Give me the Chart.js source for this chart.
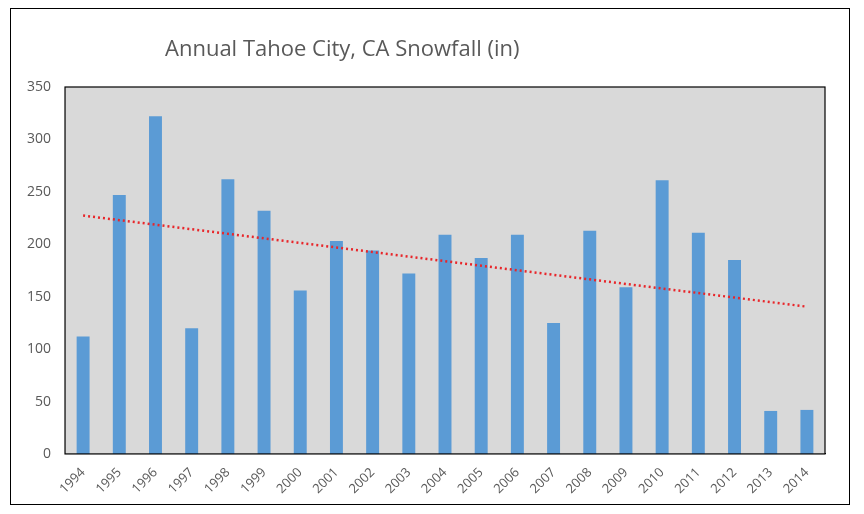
<!DOCTYPE html>
<html><head><script src="https://cdn.jsdelivr.net/npm/chart.js@4"></script>
<style>body{margin:0;background:#fff}#w{position:absolute;left:10px;top:8px;width:840px;height:497px;border:1.5px solid #000;box-sizing:border-box}
#t{position:absolute;left:165px;top:32px;font-family:'Open Sans';font-size:22px;color:#595959}
canvas{position:absolute;left:0;top:0}</style>
</head><body><div id="w"><canvas id="c" width="836" height="493"></canvas></div>
<div id="t">Annual Tahoe City, CA Snowfall (in)</div>
<script>
const years=["1994","1995","1996","1997","1998","1999","2000","2001","2002","2003","2004","2005","2006","2007","2008","2009","2010","2011","2012","2013","2014"];
const snowfall=[112,247,322,120,262,232,156,203,194,172,209,187,209,125,213,159,261,211,185,41,42];
const yTicks=[0,50,100,150,200,250,300,350];
const n=snowfall.length,mx=(n-1)/2,my=snowfall.reduce((a,b)=>a+b)/n;
let sxy=0,sxx=0;snowfall.forEach((v,i)=>{sxy+=(i-mx)*(v-my);sxx+=(i-mx)*(i-mx);});
const slope=sxy/sxx;const trend=snowfall.map((v,i)=>my+slope*(i-mx));
const bg={id:'bg',beforeDatasetsDraw(c){const a=c.chartArea,x=c.ctx;x.save();x.fillStyle='#d9d9d9';x.fillRect(a.left,a.top,a.width,a.height);x.restore();},
afterDraw(c){const a=c.chartArea,x=c.ctx;x.save();x.strokeStyle='#000';x.lineWidth=1.2;x.strokeRect(a.left,a.top,a.width,a.height);x.restore();}};
new Chart(document.getElementById('c'),{type:'bar',data:{labels:years,datasets:[
{type:'line',data:trend,borderColor:'#e8262a',borderDash:[2,3],borderWidth:2.5,pointRadius:0,order:0},
{data:snowfall,backgroundColor:'#5b9bd5',categoryPercentage:0.65,barPercentage:0.55,order:1}]},
options:{responsive:false,animation:false,layout:{padding:{left:10,right:22,top:78,bottom:2}},
plugins:{legend:{display:false},tooltip:{enabled:false},title:{display:false}},
scales:{x:{grid:{display:false},border:{color:'#000'},ticks:{autoSkip:false,color:'#595959',font:{family:'Open Sans',size:13},maxRotation:45,minRotation:45}},
y:{min:0,max:350,afterBuildTicks(s){s.ticks=yTicks.map(v=>({value:v}));},grid:{display:false},border:{color:'#000'},ticks:{color:'#595959',font:{family:'Open Sans',size:14},padding:6}}}},
plugins:[bg]});
</script></body></html>
